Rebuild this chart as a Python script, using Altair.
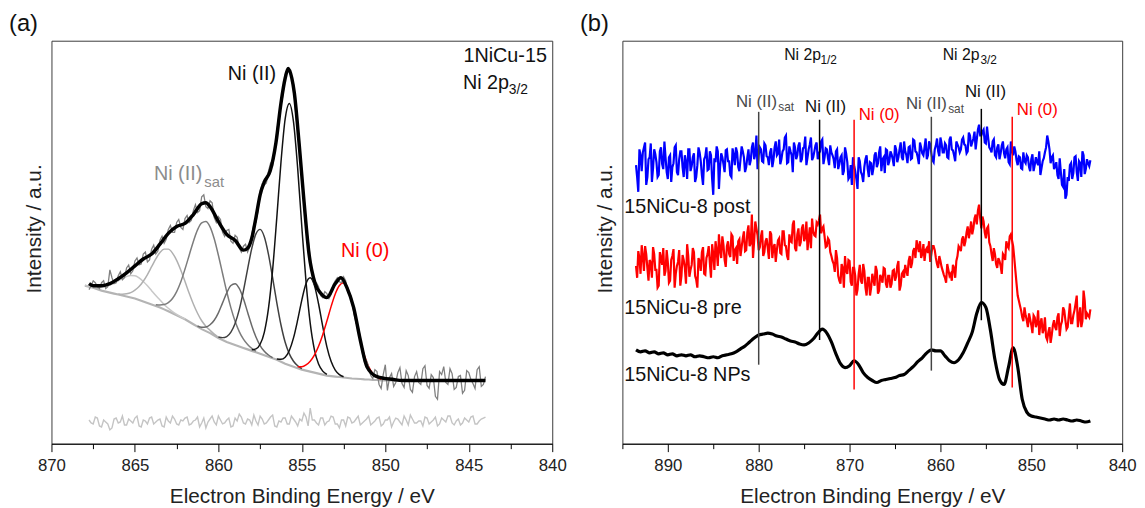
import altair as alt
import pandas as pd

FONT = "Liberation Sans"

# ---------------- panel (a): Ni 2p3/2 fit of 1NiCu-15 ----------------
A_GRID_START = 868.0
A_STEP = 0.25
# Shirley-type background, 868 -> 844 eV, 0.25 eV steps
a_background = [96, 95, 94, 92.5, 91, 90, 89, 88, 87, 86, 85, 84, 83, 81.5, 80, 78.5, 77,
                75.5, 74, 72, 70, 68, 66, 64, 62, 59.5, 57, 54.5, 52, 50, 48, 45.5, 43,
                41, 39, 37.5, 36, 34.5, 33, 31.5, 30, 28.5, 27, 25.5, 24, 22.5, 21, 19, 17,
                15.5, 14, 12.5, 11, 10, 9, 8, 7, 6, 5, 4.5, 4, 3.5, 3, 2.5, 2,
                1.8, 1.5, 1.2, 1, 0.7, 0.5, 0.2, 0] + [0] * 24

# measured spectrum, 867.75 -> 844 eV (0.25 eV steps) and the points in between
A_RAW_START = 867.75
a_raw = [92, 101, 95, 99, 93, 112, 98, 106,
         102, 114, 108, 121, 117, 128, 120, 133,
         128, 142, 139, 153, 150, 160, 155, 164,
         160, 172, 170, 186, 176, 182, 165, 166,
         150, 152, 141, 147, 134, 136, 130, 148,
         160, 192, 198, 212, 218, 252, 278, 310,
         312, 300, 252, 210, 155, 124, 97, 95,
         84, 88, 87, 101, 100, 105, 89, 82,
         58, 44, 19, 14, 2, 9, -8, 16,
         3, -6, 8, -3, 10, -9, 4, -2,
         12, -5, 6, -16, 9, 14, -4, 7,
         -7, 5, -10, 8, -3, 11, -6, 4]
A_RAW_HALF_START = 867.625
a_raw_half = [96, 99, 93, 101, 95, 104, 99, 110, 104, 117, 111, 124, 118, 130, 122, 137,
              131, 146, 143, 157, 150, 163, 153, 167, 162, 178, 172, 188, 174, 180, 160, 163,
              146, 153, 139, 145, 130, 138, 135, 158, 172, 199, 200, 220, 231, 268, 290, 314,
              309, 272, 236, 178, 143, 106, 99, 86, 90, 83, 97, 104, 99, 101, 88, 67,
              55, 28, 20, 5, 11, -4, 6,
              -10, 7, -2, 13, -7, 5, -12, 9, -4, 15, -8, 3, -19, 6, -2, 12,
              -9, 4, -13, 10, 1, -8, 14, -4]

# residual (bottom trace)
a_residual = [-40, -44, -38, -47, -42, -50, -39, -43,
              -36, -45, -41, -38, -46, -40, -44, -37,
              -42, -39, -47, -41, -36, -44, -40, -38,
              -45, -41, -37, -43, -48, -39, -42, -36,
              -44, -40, -47, -38, -34, -43, -39, -45,
              -41, -36, -44, -40, -35, -47, -42, -38,
              -44, -39, -46, -41, -37, -28, -40, -45,
              -38, -42, -36, -44, -48, -40, -37, -43,
              -39, -45, -41, -36, -43, -38, -46, -40,
              -37, -42, -39, -45, -40, -35, -43, -41,
              -46, -38, -42, -37, -44, -40, -36, -43,
              -41, -45, -38, -42, -36, -44, -39, -37]
a_residual_half = [-43, -37, -46, -40, -44, -48, -38, -42, -45, -39, -43, -36, -47, -41, -38, -44,
                   -40, -46, -37, -43, -39, -45, -41, -37, -44, -40, -47, -38, -42, -36, -45, -40,
                   -43, -38, -46, -41, -37, -44, -40, -35, -45, -39, -43, -37, -46, -41, -38, -44,
                   -36, -42, -39, -33, -46, -40, -43, -38, -45, -41, -37, -44, -40, -46, -38, -42,
                   -36, -43, -39, -45, -41, -37, -44, -40, -47, -38, -42, -36, -45, -39, -43, -41,
                   -37, -44, -40, -46, -38, -42, -36, -45, -39, -43, -40, -37, -44, -41, -38]

# fit envelope
a_env_x = [867.75, 867.5, 867.0, 866.5, 866.0, 865.5, 865.0, 864.5, 864.0, 863.5, 863.0,
           862.5, 862.0, 861.5, 861.0, 860.75, 860.5, 860.0, 859.5, 859.0, 858.5, 858.25,
           858.0, 857.75, 857.5, 857.25, 856.9, 856.55, 856.25, 856.0, 855.82, 855.6,
           855.45, 855.17, 854.87, 854.57, 854.2, 853.85, 853.5, 853.0, 852.66, 852.3,
           851.9, 851.5, 851.1, 850.5, 849.5, 849.0, 844.0]
a_env_y = [98, 96, 96, 98, 103, 109, 116, 123, 128, 138, 149,
           156, 159, 168, 179, 180, 176, 161, 148, 142, 132, 134,
           144, 165, 188, 201, 212, 241, 281, 306, 316, 306,
           291, 241, 181, 128, 98, 88, 84, 98, 104, 94,
           74, 41, 14, 4, 1, 0, 0]

# fitted components: first energy and heights above background (0.25 eV steps)
a_comp_start = [868.0, 866.0, 863.75, 861.25, 860.0, 858.0, 856.5, 855.25]
a_comp_peak = [
    [0.3, 0.5, 1, 1.8, 3.1, 5, 7.5, 10.5, 13.9, 17.4, 20.3, 22.3, 23, 22.3, 20.3, 17.4,
     13.9, 10.5, 7.5, 5, 3.1, 1.8, 1, 0.5, 0.3],
    [0.7, 1.4, 2.8, 5, 8.5, 13.6, 20.5, 28.8, 38.2, 47.6, 55.6, 61, 63, 61, 55.6, 47.6,
     38.2, 28.8, 20.5, 13.6, 8.5, 5, 2.8, 1.4, 0.7],
    [1.2, 2.5, 4.9, 8.8, 15, 24, 36, 50.8, 67.3, 83.8, 98, 107.6, 111, 107.6, 98, 83.8,
     67.3, 50.8, 36, 24, 15, 8.8, 4.9, 2.5, 1.2],
    [0.7, 1.8, 4.1, 8.4, 15.5, 25.5, 37.6, 49.7, 58.7, 62, 58.7, 49.7, 37.6, 25.5, 15.5,
     8.4, 4.1, 1.8, 0.7],
    [1.0, 2.4, 5.5, 11.5, 21.7, 37.2, 57.7, 81.3, 103.7, 120, 126, 120, 103.7, 81.3, 57.7,
     37.2, 21.7, 11.5, 5.5, 2.4, 1.0],
    [1.1, 3.5, 9.7, 23.3, 49, 89.8, 144.2, 202.2, 247.8, 265, 247.8, 202.2, 144.2, 89.8,
     49, 23.3, 9.7, 3.5, 1.1],
    [0.8, 2.5, 6.6, 14.9, 29.1, 48.8, 70.7, 88.3, 95, 88.3, 70.7, 48.8, 29.1, 14.9, 6.6,
     2.5, 0.8],
    [1.4, 3.0, 5.8, 10.5, 17.6, 27.6, 40.4, 55.2, 70.3, 83.6, 92.7, 96, 90.8, 76.9, 58.2,
     39.5, 23.9, 13, 6.3, 2.7, 1.1],
]
a_comp_color = ["#c8c8c8", "#b0b0b0", "#7c7c7c", "#6a6a6a", "#404040", "#111111",
                "#111111", "#ff0000"]

# ---------------- panel (b): 15NiCu-8 Ni 2p spectra ----------------
B_START = 893.5
B_HALF_START = 893.375
b_post = [282, 255, 292, 295, 305, 270, 290,
          265, 298, 285, 272, 300, 278, 290, 268,
          292, 280, 300, 275, 288, 296, 270, 285,
          298, 276, 290, 265, 282, 295, 272, 288,
          300, 278, 292, 252, 285, 296, 280, 290,
          275, 298, 286, 270, 292, 300, 280, 288,
          296, 275, 290, 282, 300, 288, 312, 292,
          298, 285, 302, 290, 295, 280, 300, 292,
          308, 288, 298, 312, 285, 296, 275, 300,
          292, 305, 288, 300, 282, 298, 310, 290,
          302, 288, 296, 308, 290, 298, 282, 295,
          288, 296, 278, 290, 272, 300, 285, 270,
          262, 282, 268, 290, 275, 265, 288, 278,
          285, 272, 292, 280, 295, 276, 290, 298,
          282, 296, 288, 302, 285, 298, 290, 306,
          292, 300, 288, 308, 296, 290, 305, 294,
          300, 288, 306, 294, 285, 302, 296, 310,
          295, 304, 290, 308, 298, 292, 306, 300,
          298, 310, 302, 296, 312, 305, 316, 308,
          323, 312, 318, 304, 310, 298, 306, 292,
          300, 288, 302, 294, 298, 285, 306, 292,
          296, 282, 290, 278, 286, 292, 280, 288,
          276, 290, 282, 272, 286, 295, 312, 298,
          290, 278, 285, 268, 275, 260, 248, 270,
          282, 268, 290, 275, 286, 270, 292, 278,
          284, 287]
b_post_half = [270, 298, 276, 300, 262, 288, 304, 279,
               293, 270, 296, 283, 306, 275, 290, 265,
               284, 302, 272, 296, 280, 292, 268, 298,
               281, 294, 270, 300, 286, 262, 291, 277,
               296, 268, 289, 301, 258, 294, 283, 297,
               286, 272, 299, 282, 295, 276, 301, 290,
               280, 298, 287, 305, 293, 278, 300, 286,
               304, 291, 282, 299, 287, 306, 294, 283,
               296, 310, 284, 301, 292, 305, 288, 302,
               285, 299, 311, 290, 303, 287, 296, 305,
               294, 306, 283, 299, 289, 302, 292, 279,
               298, 283, 292, 276, 294, 268, 282, 290,
               276, 258, 286, 272, 280, 292, 270, 284,
               279, 295, 284, 301, 288, 274, 297, 286,
               293, 281, 298, 290, 305, 287, 296, 284,
               301, 289, 307, 295, 283, 300, 292, 309,
               292, 303, 287, 298, 309, 291, 304, 295,
               302, 289, 311, 297, 286, 303, 295, 308,
               303, 294, 315, 301, 309, 298, 318, 312,
               316, 305, 321, 300, 295, 308, 290, 303,
               294, 306, 289, 300, 283, 297, 301, 287,
               291, 279, 295, 284, 290, 276, 293, 282,
               285, 296, 279, 289, 300, 306, 284, 292,
               281, 272, 289, 262, 278, 252, 266, 284,
               274, 291, 266, 284, 296, 273, 288, 281]
b_pre = [180, 195, 172, 190, 200, 178, 186,
         168, 192, 176, 160, 188, 198, 175, 184,
         165, 190, 158, 180, 196, 170, 186, 162,
         190, 176, 198, 170, 158, 185, 194, 172,
         188, 200, 168, 192, 205, 180, 196, 210,
         186, 200, 192, 212, 185, 198, 205, 190,
         208, 195, 214, 200, 232, 205, 218, 196,
         210, 190, 205, 198, 215, 188, 202, 196,
         208, 192, 215, 200, 186, 205, 222, 198,
         212, 200, 218, 205, 225, 208, 198, 215,
         210, 222, 232, 218, 210, 200, 206, 190,
         182, 196, 170, 162, 178, 190, 172, 185,
         160, 178, 150, 172, 165, 182, 158, 168,
         150, 172, 160, 175, 155, 168, 178, 162,
         170, 158, 175, 165, 180, 155, 172, 168,
         175, 185, 178, 195, 188, 200, 205, 192,
         185, 198, 205, 192, 200, 188, 178, 185,
         175, 168, 182, 170, 165, 178, 185, 200,
         195, 210, 205, 220, 215, 212, 228, 222,
         242, 218, 225, 208, 220, 200, 185, 192,
         178, 185, 172, 190, 205, 198, 212, 200,
         175, 150, 140, 128, 138, 125, 132, 120,
         130, 118, 135, 122, 112, 128, 105, 118,
         110, 125, 115, 132, 120, 138, 125, 118,
         142, 122, 135, 150, 128, 118, 155, 126,
         130, 136]
b_pre_half = [168, 188, 201, 175, 192, 165, 183, 199,
              176, 158, 194, 181, 170, 196, 163, 186,
              197, 172, 184, 160, 191, 178, 202, 169,
              181, 194, 166, 188, 175, 199, 171, 192,
              183, 202, 176, 195, 212, 188, 201, 179,
              205, 189, 210, 196, 182, 207, 199, 215,
              196, 221, 203, 188, 225, 211, 199, 216,
              194, 208, 187, 212, 199, 184, 206, 193,
              215, 201, 190, 212, 204, 226, 195, 218,
              204, 222, 209, 196, 219, 228, 211, 224,
              226, 213, 220, 199, 208, 194, 185, 174,
              188, 165, 182, 158, 175, 186, 164, 178,
              170, 156, 181, 162, 175, 150, 168, 158,
              166, 180, 152, 171, 163, 177, 158, 170,
              162, 176, 169, 185, 160, 174, 181, 170,
              190, 183, 198, 206, 194, 188, 202, 196,
              193, 184, 200, 196, 182, 190, 179, 171,
              163, 176, 172, 181, 168, 190, 198, 207,
              200, 214, 208, 225, 218, 232, 236, 228,
              230, 214, 218, 204, 192, 198, 182, 188,
              180, 192, 186, 200, 210, 206, 188, 162,
              145, 135, 124, 130, 118, 126, 112, 128,
              122, 110, 127, 116, 108, 113, 102, 120,
              118, 128, 109, 124, 135, 116, 130, 122,
              130, 142, 118, 138, 124, 145, 132, 128]
b_nps = [95, 93, 94, 92, 93, 91, 92, 90, 91, 89, 90, 89, 90, 88, 89, 88, 87, 88, 87, 89,
         90, 91, 93, 96, 99, 103, 107, 110, 111, 112,
         111, 109, 108, 106, 104, 103, 101, 100, 102, 106,
         112, 116, 112, 103, 91, 81, 77, 79, 84, 80,
         72, 67, 64, 62, 64, 65, 66, 67, 69, 70,
         74, 78, 83, 87, 92, 95, 94, 94, 89, 84,
         82, 85, 92, 102, 113, 132, 143, 138, 115, 85,
         65, 60, 78, 97, 78, 45, 32, 28, 27, 26,
         25, 24, 25, 24, 25, 24, 23, 24, 23, 22,
         23]

b_line_x = [880.0, 873.3, 869.5, 861.0, 855.5, 852.1]
b_line_top = [336, 328, 328, 331, 339, 331]
b_line_bottom = [80, 105, 55, 74, 125, 57]
b_line_color = ["#444444", "#000000", "#ff0000", "#444444", "#000000", "#ff0000"]


def grid_df(start, step, vals):
    return pd.DataFrame({"eV": [round(start - i * step, 4) for i in range(len(vals))],
                         "I": vals})


def x_axis(values, major):
    return alt.Axis(
        values=values,
        labelExpr=f"datum.value % {major} === 0 ? datum.label : ''",
        tickSize={"condition": {"test": f"datum.value % {major} === 0", "value": 8}, "value": 5},
        tickColor="black", tickWidth=1, domainColor="black", domainWidth=1,
        labelFont=FONT, labelFontSize=17, labelColor="#222222", labelPadding=6,
        labelFlush=False, labelOverlap=False, grid=False,
        title="Electron Binding Energy / eV", titleFont=FONT, titleFontSize=21,
        titleFontWeight="normal", titleColor="#222222", titlePadding=13)


Y_AXIS = alt.Axis(title="Intensity / a.u.", labels=False, ticks=False, domain=False,
                  grid=False, titleFont=FONT, titleFontSize=21, titleFontWeight="normal",
                  titleColor="#222222", titlePadding=7, titleY=190)

# ---------- build panel (a) ----------
ax_vals = [870, 867.5, 865, 862.5, 860, 857.5, 855, 852.5, 850, 847.5, 845, 842.5, 840]
AX = alt.X("eV:Q", scale=alt.Scale(domain=[840, 870], reverse=True, nice=False),
           axis=x_axis(ax_vals, 5))
AY = alt.Y("I:Q", scale=alt.Scale(domain=[-64, 344], nice=False, zero=False), axis=Y_AXIS)


def a_line(df, color, width, interp="linear"):
    return alt.Chart(df).mark_line(color=color, strokeWidth=width, interpolate=interp).encode(
        x=AX, y=AY)


a_layers = []
a_layers.append(a_line(pd.concat([grid_df(A_RAW_START, A_STEP, a_residual),
                                  grid_df(A_RAW_HALF_START, A_STEP, a_residual_half)]),
                       "#c4c4c4", 1.4))
a_layers.append(a_line(grid_df(A_GRID_START, A_STEP, a_background), "#b4b4b4", 2.2))
for start, peak, col in zip(a_comp_start, a_comp_peak, a_comp_color):
    i0 = int(round((A_GRID_START - start) / A_STEP))
    tot = [a_background[i0 + i] + p for i, p in enumerate(peak)]
    a_layers.append(a_line(grid_df(start, A_STEP, tot), col, 1.5, "monotone"))
a_layers.append(a_line(pd.concat([grid_df(A_RAW_START, A_STEP, a_raw),
                                  grid_df(A_RAW_HALF_START, A_STEP, a_raw_half)]),
                       "#808080", 1.3))
a_layers.append(a_line(pd.DataFrame({"eV": a_env_x, "I": a_env_y}), "#000000", 3.5,
                       "monotone"))


def text_layer(xs, ys, texts, size, color, AXc, AYc):
    df = pd.DataFrame({"eV": xs, "I": ys, "t": texts})
    return alt.Chart(df).mark_text(align="left", baseline="middle", font=FONT,
                                   fontSize=size, color=color).encode(x=AXc, y=AYc, text="t:N")


a_layers += [
    text_layer([845.32, 845.35, 859.44], [328, 301, 310], ["1NiCu-15", "Ni 2p", "Ni (II)"],
               20, "#111111", AX, AY),
    text_layer([842.6], [294], ["3/2"], 14, "#111111", AX, AY),
    text_layer([863.86], [209], ["Ni (II)"], 20, "#8c8c8c", AX, AY),
    text_layer([860.84], [201], ["sat"], 15, "#8c8c8c", AX, AY),
    text_layer([852.65], [131], ["Ni (0)"], 20, "#ff0000", AX, AY),
]

panel_a = alt.layer(*a_layers).properties(
    width=507, height=408,
    title=alt.TitleParams("(a)", anchor="start", frame="group", dx=-43, offset=5,
                          fontSize=24, font=FONT, fontWeight="normal", color="#111111"))

# ---------- build panel (b) ----------
bx_vals = [895, 890, 885, 880, 875, 870, 865, 860, 855, 850, 845, 840]
BX = alt.X("eV:Q", scale=alt.Scale(domain=[840, 895], reverse=True, nice=False),
           axis=x_axis(bx_vals, 10))
BY = alt.Y("I:Q", scale=alt.Scale(domain=[0, 408], nice=False, zero=False), axis=Y_AXIS)


def b_line(df, color, width, interp="linear"):
    return alt.Chart(df).mark_line(color=color, strokeWidth=width, interpolate=interp).encode(
        x=BX, y=BY)


rules_df = pd.DataFrame({"eV": b_line_x, "I": b_line_bottom, "I2": b_line_top,
                         "c": b_line_color})
b_layers = [
    b_line(pd.concat([grid_df(B_START, 0.25, b_post), grid_df(B_HALF_START, 0.25, b_post_half)]),
           "#0000ff", 2.2),
    b_line(pd.concat([grid_df(B_START, 0.25, b_pre), grid_df(B_HALF_START, 0.25, b_pre_half)]),
           "#ff0000", 2.2),
    b_line(grid_df(B_START, 0.5, b_nps), "#000000", 3.2, "monotone"),
    alt.Chart(rules_df).mark_rule(strokeWidth=1.5).encode(
        x=BX, y=BY, y2="I2:Q", color=alt.Color("c:N", scale=None)),
    text_layer([877.2, 859.75], [393, 393], ["Ni 2p", "Ni 2p"], 16, "#111111", BX, BY),
    text_layer([873.2, 855.6], [388, 388], ["1/2", "3/2"], 12, "#111111", BX, BY),
    text_layer([882.5, 863.8], [346, 344], ["Ni (II)", "Ni (II)"], 17, "#4a4a4a", BX, BY),
    text_layer([877.85, 859.15], [341, 339], ["sat", "sat"], 12, "#4a4a4a", BX, BY),
    text_layer([874.9, 857.3], [341, 356], ["Ni (II)", "Ni (II)"], 17, "#111111", BX, BY),
    text_layer([869.0, 851.6], [333, 338], ["Ni (0)", "Ni (0)"], 17, "#ff0000", BX, BY),
    text_layer([894.8, 894.8, 894.8], [240, 137, 69],
               ["15NiCu-8 post", "15NiCu-8 pre", "15NiCu-8 NPs"], 20, "#111111", BX, BY),
]

panel_b = alt.layer(*b_layers).properties(
    width=506, height=408,
    title=alt.TitleParams("(b)", anchor="start", frame="group", dx=-43, offset=5,
                          fontSize=24, font=FONT, fontWeight="normal", color="#111111"))

chart = alt.hconcat(panel_a, panel_b, spacing=12).properties(
    padding={"left": 0, "top": 0, "right": 0, "bottom": 0}
).configure_view(stroke="#3a3a3a", strokeWidth=1)

chart.save("out.html", embed_options={"renderer": "svg", "actions": False})
